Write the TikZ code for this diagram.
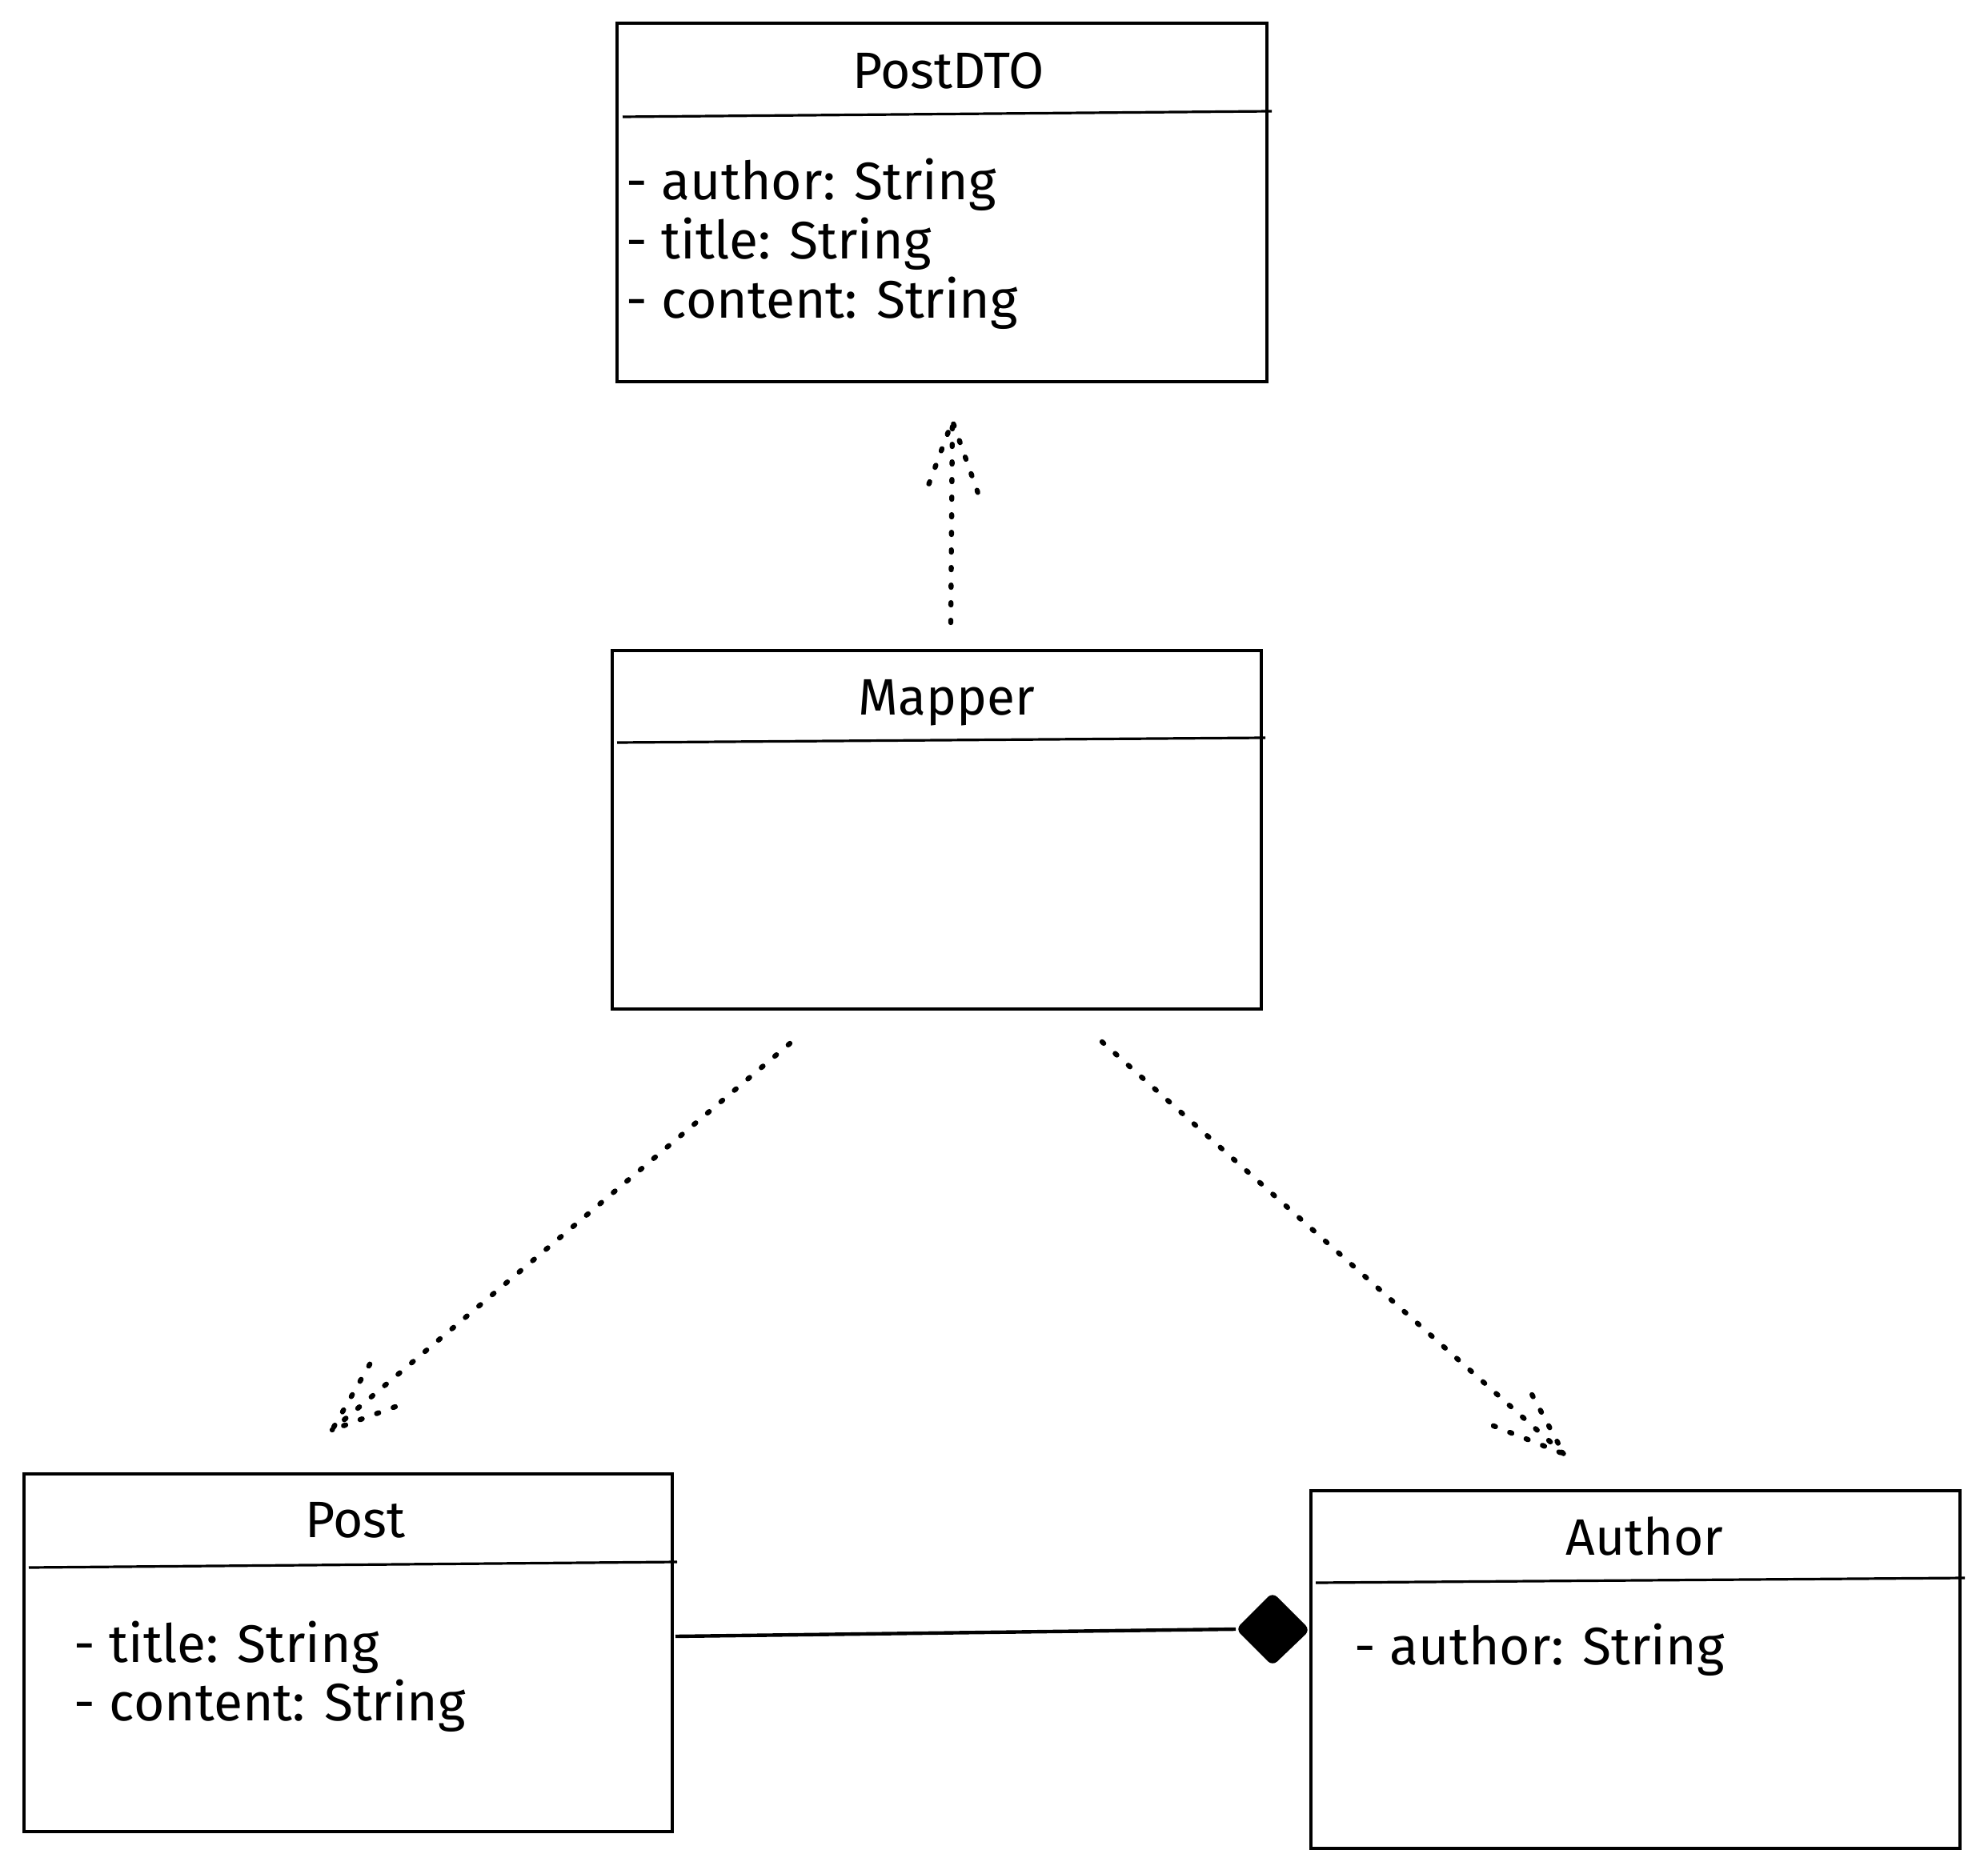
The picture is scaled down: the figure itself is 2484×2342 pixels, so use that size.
\documentclass[tikz,border=0pt]{standalone}
\usepackage{fontspec}
\setmainfont{Fira Sans}
\usetikzlibrary{calc,fit}
\begin{document}
\begin{tikzpicture}[x=0.25pt,y=-0.25pt,
  box/.style={draw, line width=0.8pt, inner sep=0pt, outer sep=0pt},
  rule/.style={line width=0.8pt},
  dotline/.style={line width=1.6pt, dash pattern=on 0.7pt off 4.8pt, line cap=round},
  title/.style={font=\fontsize{16}{19}\selectfont, anchor=base, inner sep=0pt},
  attr/.style={font=\fontsize{16.5}{19}\selectfont, anchor=base west, inner sep=0pt},
  link/.style={line width=1.1pt},
]
\fill[white] (0,0) rectangle (2484,2342);
\useasboundingbox (0,0) rectangle (2484,2342);

% class boxes
\node[box, fit={(771,29) (1583,477)}] (postdto) {};
\node[box, fit={(765,813) (1576,1261)}] (mapper) {};
\node[box, fit={(30,1842) (840,2289)}] (post) {};
\node[box, fit={(1638,1863) (2449,2310)}] (author) {};

% compartment dividers
\draw[rule] (778,146) -- (1589,139);
\draw[rule] (771,928) -- (1581,922);
\draw[rule] (36,1959) -- (846,1952);
\draw[rule] (1644,1978) -- (2455,1972);

% class names
\node[title] (postdtoname) at (1185,111) {PostDTO};
\node[title] (mappername) at (1183,893) {Mapper};
\node[title] (postname) at (444,1921) {Post};
\node[title] (authorname) at (2055,1943) {Author};

% attributes
\node[attr] (dtoa) at (782,250) {- author: String};
\node[attr] (dtob) at (782,324) {- title: String};
\node[attr] (dtoc) at (782,398) {- content: String};
\node[attr] (posta) at (92,2077) {- title: String};
\node[attr] (postb) at (92,2150) {- content: String};
\node[attr] (autha) at (1692,2080) {- author: String};

% dependency: Mapper -> PostDTO
\coordinate (m2ds) at (1188,778);
\coordinate (m2dt) at (1190,526);
\draw[dotline] (m2ds) -- (m2dt);
\draw[dotline] ($(m2dt)!23.7pt!20:(m2ds)$) -- (m2dt) -- ($(m2dt)!23.7pt!-20:(m2ds)$);

% dependency: Mapper -> Post
\coordinate (m2ps) at (987,1304);
\coordinate (m2pt) at (415,1787);
\draw[dotline] (m2ps) -- (m2pt);
\draw[dotline] ($(m2pt)!23.7pt!20:(m2ps)$) -- (m2pt) -- ($(m2pt)!23.7pt!-20:(m2ps)$);

% dependency: Mapper -> Author
\coordinate (m2as) at (1377,1302);
\coordinate (m2at) at (1954,1817);
\draw[dotline] (m2as) -- (m2at);
\draw[dotline] ($(m2at)!23.7pt!20:(m2as)$) -- (m2at) -- ($(m2at)!23.7pt!-20:(m2as)$);

% composition: Post -- Author
\coordinate (comps) at (844,2045);
\coordinate (compd) at (1544,2036);
\draw[link] (comps) -- (compd);
\fill[rounded corners=2pt] (compd) -- (1590,1990) -- (1637,2037) -- (1590,2082) -- cycle;
\end{tikzpicture}
\end{document}
